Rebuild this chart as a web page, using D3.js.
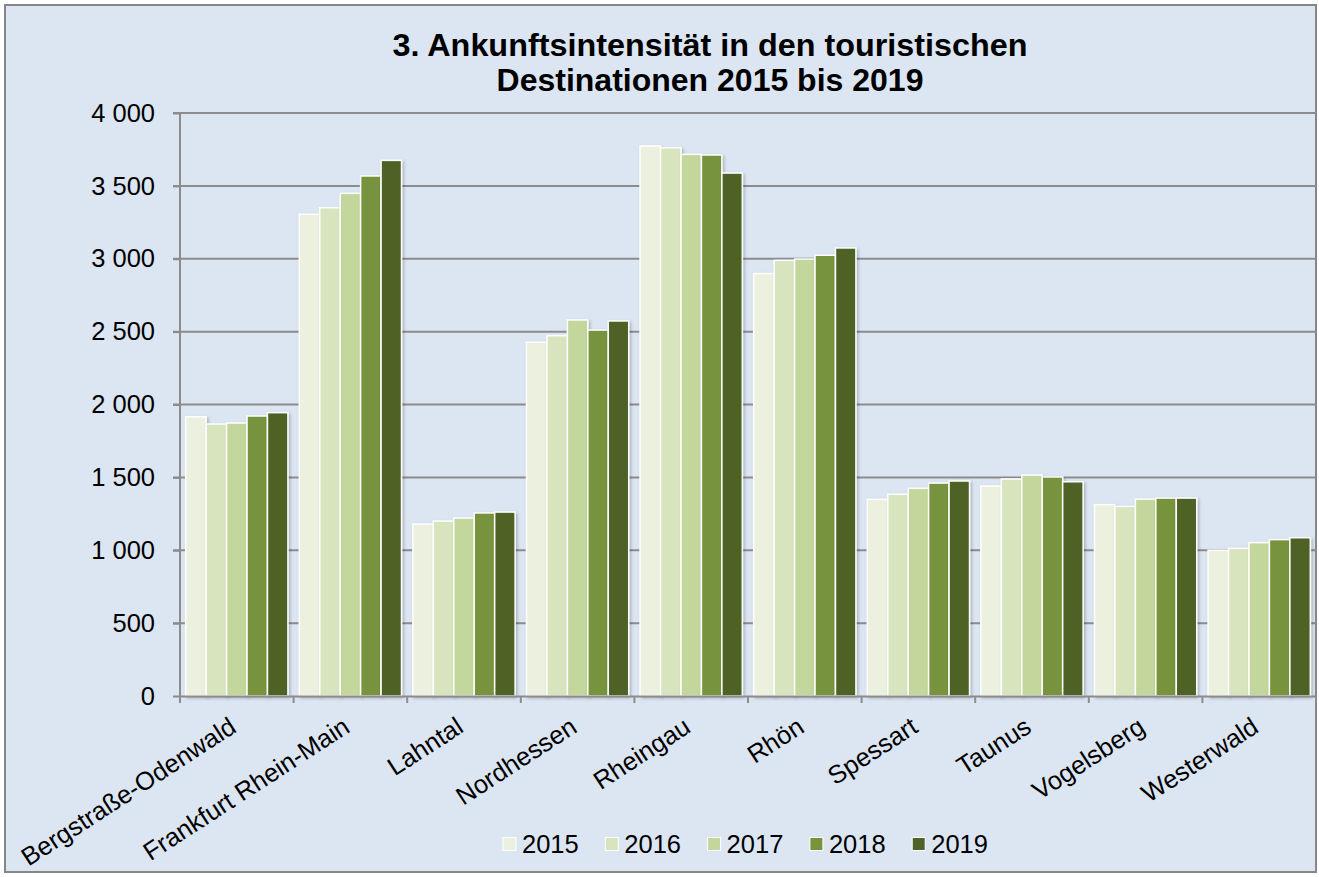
<!DOCTYPE html>
<html><head><meta charset="utf-8">
<script src="https://cdn.jsdelivr.net/npm/d3@7"></script>
<style>body{margin:0;background:#fff}svg{display:block}</style>
</head><body>
<svg id="c" width="1319" height="877"></svg>
<script>
const categories = ["Bergstraße-Odenwald","Frankfurt Rhein-Main","Lahntal","Nordhessen","Rheingau","Rhön","Spessart","Taunus","Vogelsberg","Westerwald"];
const years = ["2015","2016","2017","2018","2019"];
const v2015 = [1916,3305,1180,2427,3774,2898,1349,1441,1313,1000];
const v2016 = [1866,3350,1200,2472,3762,2989,1384,1489,1301,1013];
const v2017 = [1873,3449,1221,2580,3716,2998,1425,1516,1351,1052];
const v2018 = [1921,3568,1256,2511,3712,3024,1461,1503,1358,1073];
const v2019 = [1944,3675,1262,2573,3588,3074,1475,1470,1358,1086];
const series = [v2015,v2016,v2017,v2018,v2019];
const colors = ["#EBF1DE","#D7E4BD","#C3D69B","#77933C","#4F6228"];
const yTicks = [0,500,1000,1500,2000,2500,3000,3500,4000];
const tickLabels = ["0","500","1 000","1 500","2 000","2 500","3 000","3 500","4 000"];
const titleLines = ["3. Ankunftsintensität in den touristischen","Destinationen 2015 bis 2019"];

const svg = d3.select("#c");
const FONT = "'Liberation Sans', Arial, sans-serif";
const defs = svg.append("defs");
const f = defs.append("filter").attr("id","sh").attr("x","-20%").attr("y","-5%").attr("width","150%").attr("height","120%");
f.append("feDropShadow").attr("dx",1.5).attr("dy",1.5).attr("stdDeviation",1.5).attr("flood-color","#000").attr("flood-opacity",0.25);

svg.append("rect").attr("x",5).attr("y",5).attr("width",1311).attr("height",867)
  .attr("fill","#DCE6F2").attr("stroke","#868686").attr("stroke-width",2);

const L=180, R=1316, T=113, B=696;
const x = d3.scaleBand().domain(categories).range([L,R]).paddingInner(0.1).paddingOuter(0.05);
const x0 = d3.scaleBand().domain(categories).range([L,R]);
const xs = d3.scaleBand().domain(years).range([0,x.bandwidth()]);
const y = d3.scaleLinear().domain([0,4000]).range([B,T]);

// gridlines
svg.append("g").selectAll("line").data(yTicks.filter(d=>d>0)).join("line")
  .attr("x1",L-7).attr("x2",R).attr("y1",d=>y(d)).attr("y2",d=>y(d))
  .attr("stroke","#8C8C8C").attr("stroke-width",2);

// bars
const g = svg.append("g");
years.forEach((yr,i)=>{
  g.append("g").attr("filter","url(#sh)").selectAll("rect").data(series[i]).join("rect")
    .attr("x",(d,j)=>x(categories[j])+xs(yr))
    .attr("y",d=>y(d))
    .attr("width",xs.bandwidth())
    .attr("height",d=>B-y(d))
    .attr("fill",colors[i]).attr("stroke","#fff").attr("stroke-width",1.5);
});

// y axis
const ya = svg.append("g").attr("transform",`translate(${L},0)`)
  .call(d3.axisLeft(y).tickValues(yTicks).tickFormat((d,i)=>tickLabels[i]).tickSize(7).tickPadding(18));
ya.select(".domain").attr("stroke","#8C8C8C").attr("stroke-width",2).attr("d",`M-0,${T}V${B}`);
ya.selectAll(".tick line").attr("stroke","#8C8C8C").attr("stroke-width",2);
ya.selectAll("text").attr("font-family",FONT).attr("font-size",25.5).attr("fill","#000");

// x axis
const xa = svg.append("g").attr("transform",`translate(0,${B})`)
  .call(d3.axisBottom(x0).tickSize(0).tickFormat(""));
xa.select(".domain").attr("stroke","#8C8C8C").attr("stroke-width",2);
const xtick = categories.map((c,i)=>x0(c)).concat([R]);
xa.selectAll("line.sep").data(xtick).join("line").attr("class","sep")
  .attr("x1",d=>d).attr("x2",d=>d).attr("y1",0).attr("y2",7).attr("stroke","#8C8C8C").attr("stroke-width",2);
svg.append("g").selectAll("text").data(categories).join("text")
  .attr("transform",d=>`translate(${x0(d)+x0.bandwidth()/2+1},${B+35}) rotate(-33)`)
  .attr("text-anchor","end").attr("font-family",FONT).attr("font-size",25.5).attr("fill","#000")
  .text(d=>d);

// title
svg.append("g").selectAll("text").data(titleLines).join("text")
  .attr("x",710).attr("y",(d,i)=>56+i*35).attr("text-anchor","middle")
  .attr("font-family",FONT).attr("font-size",32).attr("font-weight","bold").attr("fill","#000")
  .attr("textLength",(d,i)=>i===0?635:null).attr("lengthAdjust","spacingAndGlyphs")
  .text(d=>d);

// legend
const lg = svg.append("g").selectAll("g").data(years).join("g")
  .attr("transform",(d,i)=>`translate(${503+i*102.3},844)`);
lg.append("rect").attr("x",0).attr("y",-6.5).attr("width",13).attr("height",13)
  .attr("fill",(d,i)=>colors[i]).attr("stroke","#fff").attr("stroke-width",1);
lg.append("text").attr("x",19).attr("y",8.5).attr("font-family",FONT).attr("font-size",25.5).attr("fill","#000").text(d=>d);
</script>
</body></html>
